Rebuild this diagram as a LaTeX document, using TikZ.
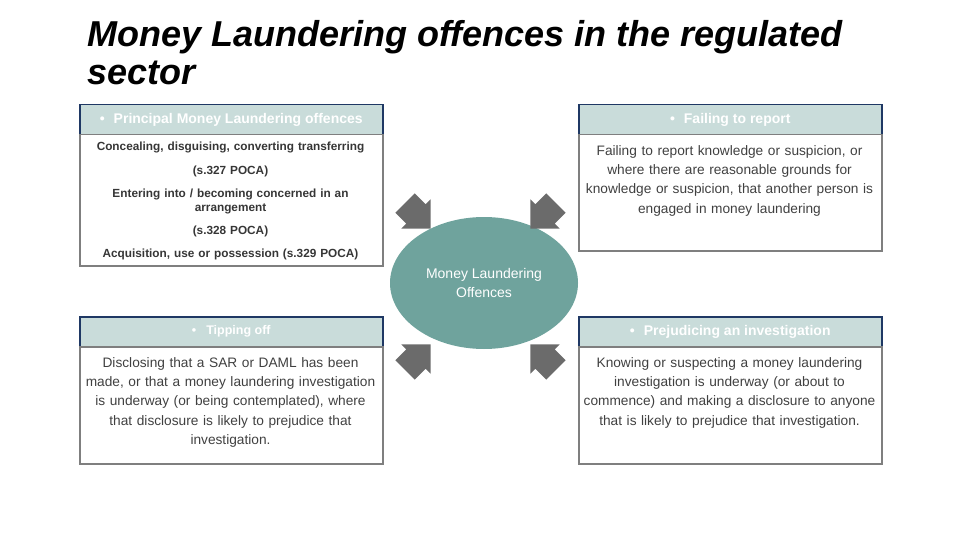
\documentclass[tikz,border=0pt]{standalone}
\usepackage{fontspec}
\setmainfont{Liberation Sans}
\usepackage{xcolor}
\definecolor{Navy}{HTML}{1F3864}
\definecolor{HeadFill}{HTML}{C9DCDA}
\definecolor{Teal}{HTML}{6FA39D}
\definecolor{ArrowGray}{HTML}{6B6B6B}
\definecolor{BorderGray}{HTML}{7F7F7F}
\definecolor{TextGray}{HTML}{404040}
\usepackage{tikz}
\usetikzlibrary{shapes.geometric, shapes.arrows}
\tikzset{
  head/.style={
    rectangle, anchor=north west, fill=HeadFill, draw=Navy, line width=1.5pt,
    minimum width=303pt, minimum height=30pt, inner sep=0pt,
    text=white, font=\fontsize{14}{16}\selectfont\bfseries
  },
  body/.style={
    rectangle, anchor=north west, draw=BorderGray, line width=1.5pt,
    minimum width=303pt, minimum height=#1, inner sep=0pt
  },
  txt/.style={
    anchor=north, align=center, text width=299pt, inner sep=0pt,
    text=TextGray, font=\fontsize{13.7}{19.3}\selectfont
  },
  blk/.style={
    single arrow, fill=ArrowGray, single arrow tip angle=90,
    single arrow head extend=7pt, inner xsep=0pt, inner ysep=13.5pt,
    minimum height=36pt
  },
}

\begin{document}
\begin{tikzpicture}[x=1pt, y=-1pt]
\useasboundingbox (0,0) rectangle (960,540);

% Title
\node[anchor=north west, align=left, inner sep=0pt,
  font=\fontsize{36}{38}\selectfont\bfseries\itshape] (title) at (87,20)
  {Money Laundering offences in the regulated\\sector};

% Principal offences
\node[head] (plHead) at (79,104) {\textbullet\hspace{9pt}Principal Money Laundering offences};
\node[body=131pt] (plBody) at (79,134) {};
\node[txt, font=\fontsize{11.8}{14}\selectfont\bfseries, text=TextGray!85!black] (plText) at (230.5,142) {
  Concealing, disguising, converting transferring\\[10pt]
  (s.327 POCA)\\[9pt]
  Entering into / becoming concerned in an\\arrangement\\[9pt]
  (s.328 POCA)\\[9pt]
  Acquisition, use or possession (s.329 POCA)
};

% Failing to report
\node[head] (frHead) at (578,104) {\textbullet\hspace{9pt}Failing to report};
\node[body=116pt] (frBody) at (578,134) {};
\node[txt] (frText) at (729.5,145) {
  Failing to report knowledge or suspicion, or\\
  where there are reasonable grounds for\\
  knowledge or suspicion, that another person is\\
  engaged in money laundering
};

% Tipping off
\node[head, font=\fontsize{12.5}{14}\selectfont\bfseries] (toHead) at (79,316) {\textbullet\hspace{10pt}Tipping off};
\node[body=117pt] (toBody) at (79,346) {};
\node[txt] (toText) at (230.5,357) {
  Disclosing that a SAR or DAML has been\\
  made, or that a money laundering investigation\\
  is underway (or being contemplated), where\\
  that disclosure is likely to prejudice that\\
  investigation.
};

% Prejudicing an investigation
\node[head] (piHead) at (578,316) {\textbullet\hspace{9pt}Prejudicing an investigation};
\node[body=117pt] (piBody) at (578,346) {};
\node[txt] (piText) at (729.5,357) {
  Knowing or suspecting a money laundering\\
  investigation is underway (or about to\\
  commence) and making a disclosure to anyone\\
  that is likely to prejudice that investigation.
};

% Centre
\node[ellipse, fill=Teal, minimum width=188pt, minimum height=132pt, inner sep=0pt,
  text=white, align=center, font=\fontsize{14}{19}\selectfont] (mlo) at (484,283)
  {Money Laundering\\Offences};

% Block arrows
\node[blk, rotate=-45] (arTL) at (413,211) {};
\node[blk, rotate=-135] (arTR) at (548,211) {};
\node[blk, rotate=45] (arBL) at (413,362) {};
\node[blk, rotate=135] (arBR) at (548,362) {};

\end{tikzpicture}
\end{document}
